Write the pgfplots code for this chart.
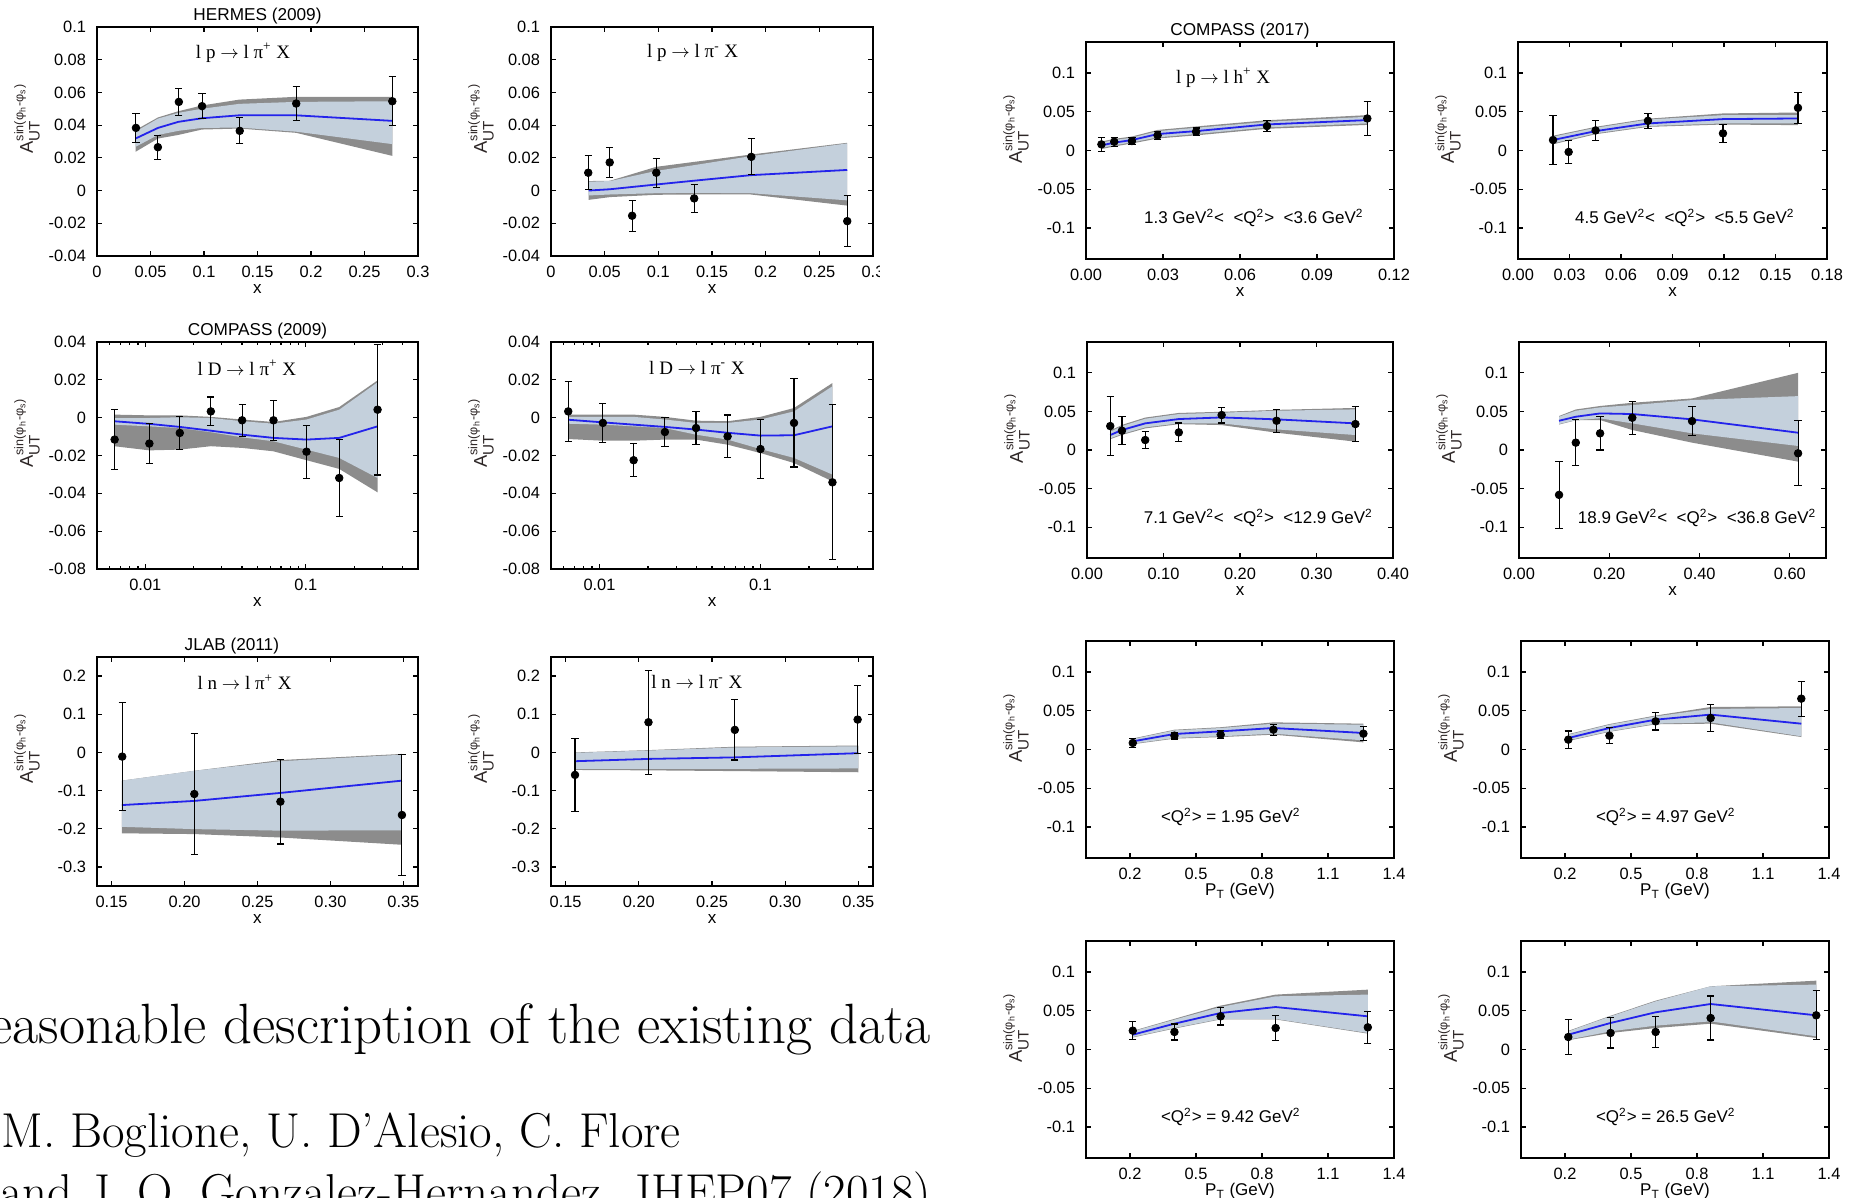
\documentclass[border=0pt]{standalone}
\usepackage{fontspec}
\usepackage{pgfplots}
\pgfplotsset{compat=1.18}
\setsansfont{Liberation Sans}
\newfontfamily\serifT{Liberation Serif}
\definecolor{lband}{RGB}{196,208,220}
\definecolor{dband}{RGB}{140,140,140}
\definecolor{fitblue}{RGB}{35,35,235}
\definecolor{lab}{RGB}{45,38,38}
\newcommand{\AUT}{{\fontsize{9.2}{10}\selectfont\sffamily A}${}^{\hbox{\fontsize{6.3}{7}\selectfont\sffamily sin(φ\textsubscript{h}-φ\textsubscript{s})}}_{\hbox{\fontsize{7.6}{8}\selectfont\sffamily UT}}$}
\newcommand{\proc}{\serifT\fontsize{9.5}{10}\selectfont}
\newcommand{\arr}{ $\rightarrow$ }
\newcommand{\qlab}{\sffamily\fontsize{8.5}{9}\selectfont}
\pgfplotsset{
  panel/.style={
    scale only axis, enlargelimits=false,
    scaled x ticks=false, scaled y ticks=false,
    axis line style={line width=0.9pt, black},
    tick style={line width=0.6pt, black},
    major tick length=2.6pt, minor tick length=1.6pt,
    tick align=inside,
    tick label style={font=\sffamily\fontsize{8.2}{9}\selectfont, text=black},
    xticklabel style={yshift=-1.5pt},
    yticklabel style={xshift=-2pt},
    xlabel style={font=\sffamily\fontsize{8.5}{9}\selectfont, at={(axis description cs:0.5,0)}, anchor=base, yshift=-19pt},
    every axis y label/.style={at={([xshift=-35pt]rel axis cs:0,0.6)}, rotate=90, anchor=center, text=lab},
    ylabel={\AUT},
    every axis title/.style={font=\sffamily\fontsize{8.6}{9}\selectfont, at={(axis description cs:0.5,1)}, anchor=base, yshift=3pt},
  },
  leftp/.style={panel, width=160.5pt, height=114.5pt},
  rightp/.style={panel, width=154pt, height=108.5pt, ymin=-0.14, ymax=0.14,
    ytick={-0.1,-0.05,0,0.05,0.1}, yticklabels={-0.1,-0.05,0,0.05,0.1}},
  lb/.style={fill=lband, draw=none},
  db/.style={fill=dband, draw=none},
  fit/.style={draw=fitblue, line width=0.9pt, mark=none},
  dat/.style={only marks, mark=*, mark size=1.9pt, black, mark options={fill=black},
    error bars/y dir=both, error bars/y explicit,
    error bars/error bar style={line width=0.55pt, black},
    error bars/error mark options={rotate=90, line width=0.55pt, mark size=1.8pt, black}},
}
\begin{document}
\begin{tikzpicture}
\clip (0,0) rectangle (930pt,599pt);
\path[use as bounding box] (0,0) rectangle (930pt,599pt);

% ---------- HERMES pi+ ----------
\begin{axis}[leftp, at={(48.5pt,471pt)}, anchor=south west,
  xmin=0, xmax=0.3, ymin=-0.04, ymax=0.1,
  xtick={0,0.05,0.1,0.15,0.2,0.25,0.3}, xticklabels={0,0.05,0.1,0.15,0.2,0.25,0.3},
  ytick={-0.04,-0.02,0,0.02,0.04,0.06,0.08,0.1}, yticklabels={-0.04,-0.02,0,0.02,0.04,0.06,0.08,0.1},
  xlabel={x}, title={HERMES (2009)}]
\addplot[db] coordinates {(0.036,0.037) (0.057,0.0447) (0.076,0.0485) (0.098,0.052) (0.133,0.0556) (0.186,0.0573) (0.276,0.0573)
  (0.276,0.0212) (0.186,0.0353) (0.133,0.0379) (0.098,0.0373) (0.076,0.034) (0.057,0.0318) (0.036,0.0237)} -- cycle;
\addplot[lb] coordinates {(0.036,0.036) (0.057,0.044) (0.076,0.0475) (0.098,0.050) (0.133,0.053) (0.186,0.0542) (0.276,0.0546)
  (0.276,0.0284) (0.186,0.036) (0.133,0.0385) (0.098,0.0383) (0.076,0.0365) (0.057,0.034) (0.036,0.0267)} -- cycle;
\addplot[fit] coordinates {(0.036,0.0318) (0.057,0.0383) (0.076,0.042) (0.098,0.0442) (0.133,0.046) (0.186,0.046) (0.276,0.0426)};
\addplot[dat] coordinates {(0.0364,0.0383) +- (0,0.009) (0.0569,0.0265) +- (0,0.0074) (0.0765,0.0542) +- (0,0.0083)
  (0.0982,0.0516) +- (0,0.0077) (0.1334,0.0365) +- (0,0.008) (0.1862,0.0532) +- (0,0.0106) (0.276,0.0546) +- (0,0.015)};
\node[font=\proc] at (rel axis cs:0.455,0.886) {l p\arr l π\textsuperscript{+} X};
\end{axis}

% ---------- HERMES pi- ----------
\begin{axis}[leftp, width=161pt, at={(275.5pt,471pt)}, anchor=south west,
  xmin=0, xmax=0.3, ymin=-0.04, ymax=0.1,
  xtick={0,0.05,0.1,0.15,0.2,0.25,0.3}, xticklabels={0,0.05,0.1,0.15,0.2,0.25,0.3},
  ytick={-0.04,-0.02,0,0.02,0.04,0.06,0.08,0.1}, yticklabels={-0.04,-0.02,0,0.02,0.04,0.06,0.08,0.1},
  xlabel={x}]
\addplot[db] coordinates {(0.035,0.0058) (0.055,0.006) (0.098,0.0145) (0.133,0.0175) (0.186,0.022) (0.276,0.0292)
  (0.276,-0.0092) (0.186,-0.0024) (0.133,-0.0024) (0.098,-0.0026) (0.055,-0.004) (0.035,-0.0057)} -- cycle;
\addplot[lb] coordinates {(0.035,0.0054) (0.055,0.0058) (0.098,0.012) (0.133,0.0155) (0.186,0.021) (0.276,0.0288)
  (0.276,-0.006) (0.186,-0.0016) (0.133,-0.0014) (0.098,-0.0016) (0.055,-0.0024) (0.035,-0.003)} -- cycle;
\addplot[fit] coordinates {(0.035,0.0) (0.055,0.0008) (0.098,0.0037) (0.133,0.006) (0.186,0.0094) (0.276,0.0126)};
\addplot[dat] coordinates {(0.0347,0.0109) +- (0,0.0105) (0.0547,0.0172) +- (0,0.009) (0.0756,-0.0154) +- (0,0.0095)
  (0.0981,0.0109) +- (0,0.0088) (0.1334,-0.0048) +- (0,0.0084) (0.1866,0.0206) +- (0,0.011) (0.276,-0.0187) +- (0,0.0155)};
\node[font=\proc] at (rel axis cs:0.44,0.886) {l p\arr l π\textsuperscript{-} X};
\end{axis}

% ---------- COMPASS 2009 pi+ ----------
\begin{axis}[leftp, height=113.5pt, at={(48.5pt,314.5pt)}, anchor=south west,
  xmode=log, xmin=0.005, xmax=0.5, ymin=-0.08, ymax=0.04,
  xtick={0.01,0.1}, xticklabels={0.01,0.1},
  minor xtick={0.005,0.006,0.007,0.008,0.009,0.02,0.03,0.04,0.05,0.06,0.07,0.08,0.09,0.2,0.3,0.4},
  ytick={-0.08,-0.06,-0.04,-0.02,0,0.02,0.04}, yticklabels={-0.08,-0.06,-0.04,-0.02,0,0.02,0.04},
  xlabel={x}, title={COMPASS (2009)}]
\addplot[db] coordinates {(0.0064,0.0016) (0.0106,0.0012) (0.0164,0.0012) (0.0256,0.0004) (0.0401,-0.001) (0.0629,-0.0023) (0.101,0.0004) (0.1615,0.0056) (0.28,0.0197)
  (0.28,-0.0395) (0.1615,-0.0271) (0.101,-0.0225) (0.0629,-0.0178) (0.0401,-0.016) (0.0256,-0.0151) (0.0164,-0.0169) (0.0106,-0.0173) (0.0064,-0.0151)} -- cycle;
\addplot[lb] coordinates {(0.0064,-0.0002) (0.0106,-0.0002) (0.0164,0.0002) (0.0256,-0.0002) (0.0401,-0.0019) (0.0629,-0.0032) (0.101,-0.001) (0.1615,0.0042) (0.28,0.0187)
  (0.28,-0.0319) (0.1615,-0.0213) (0.101,-0.0169) (0.0629,-0.0125) (0.0401,-0.0104) (0.0256,-0.0077) (0.0164,-0.0055) (0.0106,-0.0046) (0.0064,-0.0037)} -- cycle;
\addplot[fit] coordinates {(0.0064,-0.0019) (0.0106,-0.0033) (0.0164,-0.0049) (0.0256,-0.0069) (0.0401,-0.009) (0.0629,-0.0107) (0.101,-0.0116) (0.1615,-0.0107) (0.28,-0.0046)};
\addplot[dat] coordinates {(0.00644,-0.0116) +- (0,0.016) (0.0106,-0.0137) +- (0,0.0104) (0.0164,-0.0081) +- (0,0.0086)
  (0.0256,0.0033) +- (0,0.0076) (0.0401,-0.0014) +- (0,0.0085) (0.0629,-0.0014) +- (0,0.0105) (0.101,-0.018) +- (0,0.014)
  (0.1615,-0.0319) +- (0,0.0205) (0.28,0.0042) +- (0,0.0345)};
\node[font=\proc] at (rel axis cs:0.467,0.885) {l D\arr l π\textsuperscript{+} X};
\end{axis}

% ---------- COMPASS 2009 pi- ----------
\begin{axis}[leftp, width=161pt, height=113.5pt, at={(275.5pt,314.5pt)}, anchor=south west,
  xmode=log, xmin=0.005, xmax=0.5, ymin=-0.08, ymax=0.04,
  xtick={0.01,0.1}, xticklabels={0.01,0.1},
  minor xtick={0.005,0.006,0.007,0.008,0.009,0.02,0.03,0.04,0.05,0.06,0.07,0.08,0.09,0.2,0.3,0.4},
  ytick={-0.08,-0.06,-0.04,-0.02,0,0.02,0.04}, yticklabels={-0.08,-0.06,-0.04,-0.02,0,0.02,0.04},
  xlabel={x}]
\addplot[db] coordinates {(0.0064,0.0016) (0.0105,0.0016) (0.0163,0.0016) (0.0255,0.0004) (0.0398,-0.0016) (0.0625,-0.0019) (0.1,0.0004) (0.1616,0.0051) (0.28,0.0183)
  (0.28,-0.0337) (0.1616,-0.024) (0.1,-0.0187) (0.0625,-0.0143) (0.0398,-0.0116) (0.0255,-0.0116) (0.0163,-0.0122) (0.0105,-0.0122) (0.0064,-0.0113)} -- cycle;
\addplot[lb] coordinates {(0.0064,0.0004) (0.0105,0.0004) (0.0163,0.0004) (0.0255,-0.001) (0.0398,-0.0028) (0.0625,-0.0028) (0.1,-0.001) (0.1616,0.0033) (0.28,0.0166)
  (0.28,-0.0301) (0.1616,-0.0213) (0.1,-0.0166) (0.0625,-0.0116) (0.0398,-0.009) (0.0255,-0.0055) (0.0163,-0.0046) (0.0105,-0.0037) (0.0064,-0.0032)} -- cycle;
\addplot[fit] coordinates {(0.0064,-0.0011) (0.0105,-0.0025) (0.0163,-0.0037) (0.0255,-0.0049) (0.0398,-0.0063) (0.0625,-0.008) (0.1,-0.0095) (0.1616,-0.0093) (0.28,-0.0046)};
\addplot[dat] coordinates {(0.0064,0.0033) +- (0,0.016) (0.0105,-0.0028) +- (0,0.0104) (0.0163,-0.0225) +- (0,0.0087)
  (0.0255,-0.0076) +- (0,0.0077) (0.0398,-0.0055) +- (0,0.0089) (0.0625,-0.0099) +- (0,0.0113) (0.1,-0.0166) +- (0,0.0155)
  (0.1616,-0.0028) +- (0,0.0233) (0.28,-0.0342) +- (0,0.041)};
\node[font=\proc] at (rel axis cs:0.453,0.885) {l D\arr l π\textsuperscript{-} X};
\end{axis}

% ---------- JLAB pi+ ----------
\begin{axis}[leftp, at={(48.5pt,156pt)}, anchor=south west,
  xmin=0.14, xmax=0.36, ymin=-0.35, ymax=0.25,
  xtick={0.15,0.2,0.25,0.3,0.35}, xticklabels={0.15,0.20,0.25,0.30,0.35},
  ytick={-0.3,-0.2,-0.1,0,0.1,0.2}, yticklabels={-0.3,-0.2,-0.1,0,0.1,0.2},
  xlabel={x}, title={JLAB (2011)}, title style={at={(axis description cs:0.42,1)}}]
\addplot[db] coordinates {(0.157,-0.074) (0.207,-0.048) (0.266,-0.02) (0.349,-0.004)
  (0.349,-0.242) (0.266,-0.223) (0.207,-0.214) (0.157,-0.212)} -- cycle;
\addplot[lb] coordinates {(0.157,-0.074) (0.207,-0.048) (0.266,-0.023) (0.349,-0.006)
  (0.349,-0.204) (0.266,-0.205) (0.207,-0.201) (0.157,-0.195)} -- cycle;
\addplot[fit] coordinates {(0.157,-0.138) (0.207,-0.127) (0.266,-0.106) (0.349,-0.074)};
\addplot[dat] coordinates {(0.1573,-0.011) +- (0,0.142) (0.2067,-0.109) +- (0,0.158) (0.2657,-0.129) +- (0,0.111) (0.349,-0.164) +- (0,0.158)};
\node[font=\proc] at (rel axis cs:0.46,0.89) {l n\arr l π\textsuperscript{+} X};
\end{axis}

% ---------- JLAB pi- ----------
\begin{axis}[leftp, width=161pt, at={(275.5pt,156pt)}, anchor=south west,
  xmin=0.14, xmax=0.36, ymin=-0.35, ymax=0.25,
  xtick={0.15,0.2,0.25,0.3,0.35}, xticklabels={0.15,0.20,0.25,0.30,0.35},
  ytick={-0.3,-0.2,-0.1,0,0.1,0.2}, yticklabels={-0.3,-0.2,-0.1,0,0.1,0.2},
  xlabel={x}]
\addplot[db] coordinates {(0.157,0.0) (0.207,0.006) (0.266,0.015) (0.35,0.018)
  (0.35,-0.052) (0.266,-0.049) (0.207,-0.047) (0.157,-0.046)} -- cycle;
\addplot[lb] coordinates {(0.157,-0.001) (0.207,0.005) (0.266,0.013) (0.35,0.016)
  (0.35,-0.042) (0.266,-0.043) (0.207,-0.043) (0.157,-0.043)} -- cycle;
\addplot[fit] coordinates {(0.157,-0.023) (0.207,-0.017) (0.266,-0.013) (0.35,-0.002)};
\addplot[dat] coordinates {(0.1564,-0.059) +- (0,0.096) (0.2066,0.079) +- (0,0.136) (0.2656,0.059) +- (0,0.079) (0.3495,0.086) +- (0,0.09)};
\node[font=\proc] at (rel axis cs:0.453,0.89) {l n\arr l π\textsuperscript{-} X};
\end{axis}

\fill[white] (440pt,0) rectangle (930pt,599pt);

% ---------- COMPASS 2017, row 1 left ----------
\begin{axis}[rightp, at={(543pt,469.5pt)}, anchor=south west,
  xmin=0, xmax=0.12, xtick={0,0.03,0.06,0.09,0.12}, xticklabels={0.00,0.03,0.06,0.09,0.12},
  xlabel={x}, title={COMPASS (2017)}]
\addplot[db] coordinates {(0.006,0.0115) (0.011,0.015) (0.0179,0.018) (0.0279,0.0265) (0.0429,0.031) (0.0705,0.039) (0.1096,0.0456)
  (0.1096,0.033) (0.0705,0.028) (0.0429,0.0195) (0.0279,0.0155) (0.0179,0.009) (0.011,0.0052) (0.006,0.0018)} -- cycle;
\addplot[lb] coordinates {(0.006,0.0101) (0.011,0.0135) (0.0179,0.0165) (0.0279,0.025) (0.0429,0.0293) (0.0705,0.037) (0.1096,0.0435)
  (0.1096,0.0349) (0.0705,0.0298) (0.0429,0.0212) (0.0279,0.0169) (0.0179,0.0105) (0.011,0.0067) (0.006,0.0032)} -- cycle;
\addplot[fit] coordinates {(0.006,0.0066) (0.011,0.0101) (0.0179,0.0135) (0.0279,0.0212) (0.0429,0.025) (0.0705,0.0336) (0.1096,0.0392)};
\addplot[dat] coordinates {(0.006,0.0079) +- (0,0.0092) (0.011,0.0113) +- (0,0.0056) (0.0179,0.0122) +- (0,0.0045)
  (0.0279,0.0195) +- (0,0.0055) (0.0429,0.0242) +- (0,0.0048) (0.0705,0.0315) +- (0,0.007) (0.1096,0.0413) +- (0,0.0215)};
\node[font=\proc] at (rel axis cs:0.445,0.834) {l p\arr l h\textsuperscript{+} X};
\node[font=\qlab] at (rel axis cs:0.545,0.19) {1.3 GeV\textsuperscript{2}< ~<Q\textsuperscript{2}> ~<3.6 GeV\textsuperscript{2}};
\end{axis}

% ---------- row 1 right ----------
\begin{axis}[rightp, width=154.5pt, at={(759pt,469.5pt)}, anchor=south west,
  xmin=0, xmax=0.18, xtick={0,0.03,0.06,0.09,0.12,0.15,0.18}, xticklabels={0.00,0.03,0.06,0.09,0.12,0.15,0.18},
  xlabel={x}]
\addplot[db] coordinates {(0.0204,0.019) (0.0452,0.0305) (0.0757,0.041) (0.1194,0.0478) (0.1631,0.049)
  (0.1631,0.0327) (0.1194,0.0335) (0.0757,0.0305) (0.0452,0.021) (0.0204,0.008)} -- cycle;
\addplot[lb] coordinates {(0.0204,0.0178) (0.0452,0.0293) (0.0757,0.0399) (0.1194,0.0456) (0.1631,0.0456)
  (0.1631,0.0349) (0.1194,0.0349) (0.0757,0.0315) (0.0452,0.0221) (0.0204,0.0092)} -- cycle;
\addplot[fit] coordinates {(0.0204,0.0135) (0.0452,0.025) (0.0757,0.0349) (0.1194,0.0405) (0.1631,0.0413)};
\addplot[dat] coordinates {(0.0204,0.0135) +- (0,0.0317) (0.0295,-0.0019) +- (0,0.015) (0.0452,0.0259) +- (0,0.013)
  (0.0757,0.0383) +- (0,0.0097) (0.1194,0.0221) +- (0,0.012) (0.1631,0.055) +- (0,0.0203)};
\node[font=\qlab] at (rel axis cs:0.54,0.19) {4.5 GeV\textsuperscript{2}< ~<Q\textsuperscript{2}> ~<5.5 GeV\textsuperscript{2}};
\end{axis}

% ---------- row 2 left ----------
\begin{axis}[rightp, height=108pt, width=153pt, at={(543.5pt,320pt)}, anchor=south west,
  xmin=0, xmax=0.4, xtick={0,0.1,0.2,0.3,0.4}, xticklabels={0.00,0.10,0.20,0.30,0.40},
  xlabel={x}]
\addplot[db] coordinates {(0.0304,0.025) (0.0457,0.0325) (0.0761,0.042) (0.12,0.048) (0.176,0.0495) (0.2478,0.052) (0.3509,0.0545)
  (0.3509,0.0108) (0.2478,0.0224) (0.176,0.0323) (0.12,0.0335) (0.0761,0.028) (0.0457,0.0195) (0.0304,0.014)} -- cycle;
\addplot[lb] coordinates {(0.0304,0.0237) (0.0457,0.031) (0.0761,0.0405) (0.12,0.0466) (0.176,0.0483) (0.2478,0.0509) (0.3509,0.0526)
  (0.3509,0.0194) (0.2478,0.0267) (0.176,0.0345) (0.12,0.0345) (0.0761,0.0293) (0.0457,0.0207) (0.0304,0.0151)} -- cycle;
\addplot[fit] coordinates {(0.0304,0.0194) (0.0457,0.0259) (0.0761,0.0345) (0.12,0.0401) (0.176,0.0422) (0.2478,0.0397) (0.3509,0.0345)};
\addplot[dat] coordinates {(0.0304,0.031) +- (0,0.038) (0.0457,0.025) +- (0,0.0183) (0.0761,0.0129) +- (0,0.0108)
  (0.12,0.0228) +- (0,0.0122) (0.176,0.0453) +- (0,0.0103) (0.2478,0.0379) +- (0,0.0149) (0.3509,0.0336) +- (0,0.0222)};
\node[font=\qlab] at (rel axis cs:0.56,0.185) {7.1 GeV\textsuperscript{2}< ~<Q\textsuperscript{2}> ~<12.9 GeV\textsuperscript{2}};
\end{axis}

% ---------- row 2 right ----------
\begin{axis}[rightp, height=108pt, width=153.5pt, at={(759.5pt,320pt)}, anchor=south west,
  xmin=0, xmax=0.68, xtick={0,0.2,0.4,0.6}, xticklabels={0.00,0.20,0.40,0.60},
  xlabel={x}]
\addplot[db] coordinates {(0.0887,0.044) (0.1258,0.0525) (0.1796,0.057) (0.2509,0.0612) (0.3833,0.0668) (0.6182,0.1)
  (0.6182,-0.0151) (0.3833,0.0095) (0.2509,0.0259) (0.1796,0.0388) (0.1258,0.0385) (0.0887,0.033)} -- cycle;
\addplot[lb] coordinates {(0.0887,0.0431) (0.1258,0.0509) (0.1796,0.0552) (0.2509,0.0582) (0.3833,0.0647) (0.6182,0.0698)
  (0.6182,0.0052) (0.3833,0.0216) (0.2509,0.0345) (0.1796,0.041) (0.1258,0.0388) (0.0887,0.0336)} -- cycle;
\addplot[fit] coordinates {(0.0887,0.0379) (0.1258,0.0431) (0.1796,0.0474) (0.2509,0.0466) (0.3833,0.0397) (0.6182,0.0224)};
\addplot[dat] coordinates {(0.0887,-0.0582) +- (0,0.043) (0.1258,0.0095) +- (0,0.0295) (0.1796,0.0216) +- (0,0.0216)
  (0.2509,0.0418) +- (0,0.0213) (0.3833,0.0375) +- (0,0.0183) (0.6182,-0.0043) +- (0,0.042)};
\node[font=\qlab] at (rel axis cs:0.58,0.185) {18.9 GeV\textsuperscript{2}< ~<Q\textsuperscript{2}> ~<36.8 GeV\textsuperscript{2}};
\end{axis}

% ---------- row 3 left ----------
\begin{axis}[rightp, at={(543pt,170pt)}, anchor=south west,
  xmin=0, xmax=1.4, xtick={0.2,0.5,0.8,1.1,1.4}, xticklabels={0.2,0.5,0.8,1.1,1.4},
  xlabel={P\textsubscript{T} (GeV)}]
\addplot[db] coordinates {(0.2126,0.0142) (0.402,0.0255) (0.612,0.0287) (0.852,0.035) (1.261,0.0333)
  (1.261,0.0092) (0.852,0.0191) (0.612,0.016) (0.402,0.014) (0.2126,0.0068)} -- cycle;
\addplot[lb] coordinates {(0.2126,0.0135) (0.402,0.0247) (0.612,0.0277) (0.852,0.0333) (1.261,0.032)
  (1.261,0.0118) (0.852,0.0204) (0.612,0.017) (0.402,0.0148) (0.2126,0.0075)} -- cycle;
\addplot[fit] coordinates {(0.2126,0.0105) (0.402,0.02) (0.612,0.0234) (0.852,0.0277) (1.261,0.0213)};
\addplot[dat] coordinates {(0.2126,0.0084) +- (0,0.0055) (0.402,0.0178) +- (0,0.0043) (0.612,0.0191) +- (0,0.0054)
  (0.852,0.0256) +- (0,0.007) (1.261,0.0204) +- (0,0.009)};
\node[font=\qlab] at (rel axis cs:0.47,0.19) {<Q\textsuperscript{2}> = 1.95 GeV\textsuperscript{2}};
\end{axis}

% ---------- row 3 right ----------
\begin{axis}[rightp, at={(760.5pt,170pt)}, anchor=south west,
  xmin=0, xmax=1.4, xtick={0.2,0.5,0.8,1.1,1.4}, xticklabels={0.2,0.5,0.8,1.1,1.4},
  xlabel={P\textsubscript{T} (GeV)}]
\addplot[db] coordinates {(0.215,0.0198) (0.402,0.0328) (0.612,0.0438) (0.862,0.0548) (1.274,0.0557)
  (1.274,0.0161) (0.862,0.0333) (0.612,0.0325) (0.402,0.0228) (0.215,0.011)} -- cycle;
\addplot[lb] coordinates {(0.215,0.0191) (0.402,0.032) (0.612,0.0428) (0.862,0.0523) (1.274,0.0535)
  (1.274,0.017) (0.862,0.035) (0.612,0.0333) (0.402,0.0234) (0.215,0.0118)} -- cycle;
\addplot[fit] coordinates {(0.215,0.0148) (0.402,0.0277) (0.612,0.0385) (0.862,0.045) (1.274,0.0333)};
\addplot[dat] coordinates {(0.215,0.0127) +- (0,0.0112) (0.402,0.0178) +- (0,0.0101) (0.612,0.0363) +- (0,0.0112)
  (0.862,0.0406) +- (0,0.0172) (1.274,0.0656) +- (0,0.0226)};
\node[font=\qlab] at (rel axis cs:0.47,0.19) {<Q\textsuperscript{2}> = 4.97 GeV\textsuperscript{2}};
\end{axis}

% ---------- row 4 left ----------
\begin{axis}[rightp, at={(543pt,20pt)}, anchor=south west,
  xmin=0, xmax=1.4, xtick={0.2,0.5,0.8,1.1,1.4}, xticklabels={0.2,0.5,0.8,1.1,1.4},
  xlabel={P\textsubscript{T} (GeV)}]
\addplot[db] coordinates {(0.2126,0.024) (0.402,0.0395) (0.612,0.0566) (0.862,0.0708) (1.281,0.0772)
  (1.281,0.0205) (0.862,0.0388) (0.612,0.0388) (0.402,0.027) (0.2126,0.0155)} -- cycle;
\addplot[lb] coordinates {(0.2126,0.0234) (0.402,0.0385) (0.612,0.0548) (0.862,0.0686) (1.281,0.0708)
  (1.281,0.0213) (0.862,0.0394) (0.612,0.0394) (0.402,0.0277) (0.2126,0.0161)} -- cycle;
\addplot[fit] coordinates {(0.2126,0.0191) (0.402,0.0333) (0.612,0.0471) (0.862,0.0548) (1.281,0.0428)};
\addplot[dat] coordinates {(0.2126,0.0243) +- (0,0.0114) (0.402,0.0226) +- (0,0.0103) (0.612,0.0428) +- (0,0.0112)
  (0.862,0.0277) +- (0,0.016) (1.281,0.0286) +- (0,0.0208)};
\node[font=\qlab] at (rel axis cs:0.47,0.19) {<Q\textsuperscript{2}> = 9.42 GeV\textsuperscript{2}};
\end{axis}

% ---------- row 4 right ----------
\begin{axis}[rightp, at={(760.5pt,20pt)}, anchor=south west,
  xmin=0, xmax=1.4, xtick={0.2,0.5,0.8,1.1,1.4}, xticklabels={0.2,0.5,0.8,1.1,1.4},
  xlabel={P\textsubscript{T} (GeV)}]
\addplot[db] coordinates {(0.215,0.024) (0.407,0.0435) (0.612,0.063) (0.862,0.0815) (1.342,0.0888)
  (1.342,0.0148) (0.862,0.0333) (0.612,0.0277) (0.407,0.0213) (0.215,0.012)} -- cycle;
\addplot[lb] coordinates {(0.215,0.0234) (0.407,0.0428) (0.612,0.0621) (0.862,0.0815) (1.342,0.0837)
  (1.342,0.017) (0.862,0.0363) (0.612,0.0308) (0.407,0.0234) (0.215,0.0127)} -- cycle;
\addplot[fit] coordinates {(0.215,0.0191) (0.407,0.0342) (0.612,0.048) (0.862,0.0587) (1.342,0.0441)};
\addplot[dat] coordinates {(0.215,0.0161) +- (0,0.0222) (0.407,0.0213) +- (0,0.0194) (0.612,0.0226) +- (0,0.0204)
  (0.862,0.0406) +- (0,0.0284) (1.342,0.0441) +- (0,0.0316)};
\node[font=\qlab] at (rel axis cs:0.47,0.19) {<Q\textsuperscript{2}> = 26.5 GeV\textsuperscript{2}};
\end{axis}

% ---------- slide text ----------
\node[anchor=base east, inner sep=0pt, font=\fontsize{28.4}{32}\selectfont] at (465.5pt,77pt) {reasonable description of the existing data};
\node[anchor=base west, inner sep=0pt, font=\fontsize{24.5}{28}\selectfont] at (0.5pt,25pt) {M. Boglione, U. D'Alesio, C. Flore};
\node[anchor=base west, inner sep=0pt, font=\fontsize{24.5}{28}\selectfont] at (0pt,-5.5pt) {and J. O. Gonzalez-Hernandez, JHEP07 (2018)};
\end{tikzpicture}
\end{document}
